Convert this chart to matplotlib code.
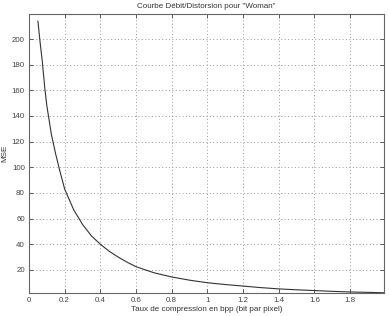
import matplotlib
matplotlib.use('Agg')
import matplotlib.pyplot as plt
from matplotlib.ticker import FormatStrFormatter

# rate / distortion values
bpp = [0.05, 0.0625, 0.075, 0.0875, 0.1, 0.125, 0.15, 0.175, 0.2, 0.25, 0.3,
       0.35, 0.4, 0.45, 0.5, 0.55, 0.6, 0.7, 0.8, 0.9, 1.0, 1.1, 1.2, 1.3, 1.4,
       1.5, 1.6, 1.7, 1.8, 1.9, 1.99]
mse = [214, 197, 182, 163, 148, 126, 110, 96, 83, 67, 55.5,
       46.5, 40, 34.5, 30, 26, 22.5, 17.8, 14.5, 12, 10, 8.6, 7.4, 6.2, 5.2,
       4.5, 3.9, 3.3, 2.8, 2.5, 2.2]
xticks = [0, 0.2, 0.4, 0.6, 0.8, 1, 1.2, 1.4, 1.6, 1.8]
yticks = [20, 40, 60, 80, 100, 120, 140, 160, 180, 200]

plt.rcParams['font.family'] = ['Liberation Sans', 'DejaVu Sans']
fig = plt.figure(figsize=(3.89, 3.16), dpi=100)
ax = fig.add_axes([29/389, 1-293/316, (384-29)/389, (293-14)/316])

ax.plot(bpp, mse, color='#333333', lw=0.8)
ax.set_xlim(0, 1.99)
ax.set_ylim(2, 219.5)
ax.set_xticks(xticks)
ax.set_yticks(yticks)
ax.xaxis.set_major_formatter(FormatStrFormatter('%g'))
ax.grid(True, linestyle=(0, (1, 2.5)), color='#999999', lw=0.7)
ax.tick_params(direction='in', labelsize=5.7, length=3, width=0.6, colors='#444444',
               top=True, right=True, pad=3)
for s in ax.spines.values():
    s.set_linewidth(0.8)
    s.set_color('#666666')

ax.set_title('Courbe Débit/Distorsion pour "Woman"', fontsize=5.8, color='#333333', pad=4)
ax.set_xlabel('Taux de compression en bpp (bit par pixel)', fontsize=5.8, color='#333333', labelpad=1)
ax.set_ylabel('MSE', fontsize=5.8, color='#333333')
ax.yaxis.set_label_coords(-0.057, 0.5)

plt.savefig('out.png', dpi=100)
